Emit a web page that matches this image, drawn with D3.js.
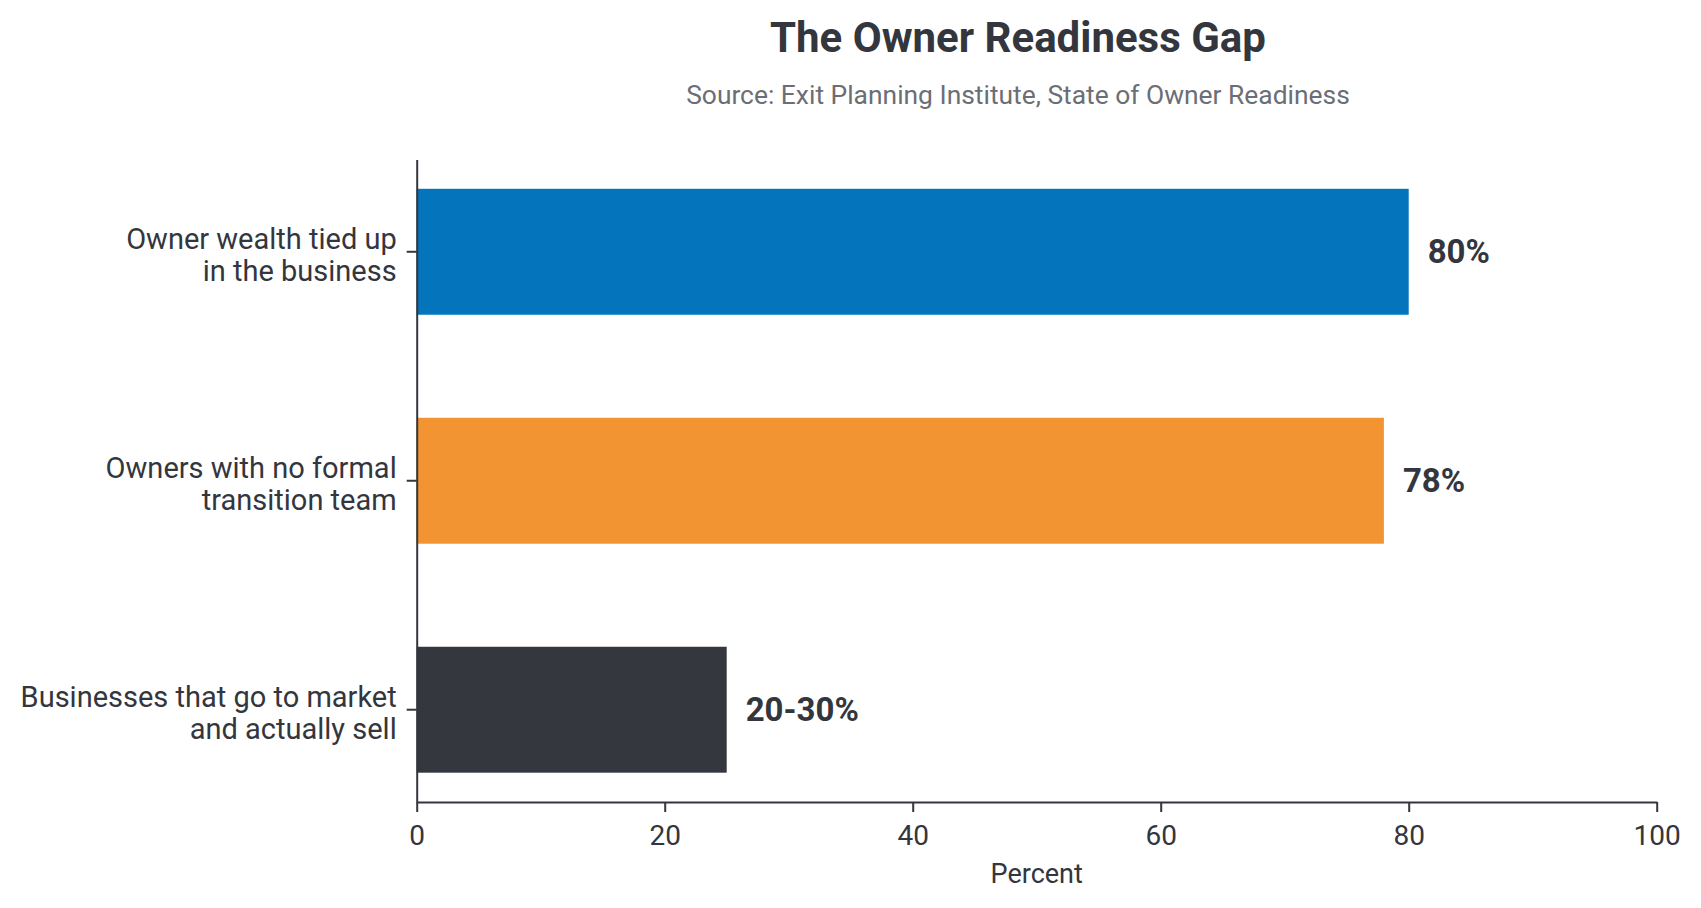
<!DOCTYPE html>
<html lang="en">
<head>
<meta charset="UTF-8">
<title>The Owner Readiness Gap</title>
<script src="https://d3js.org/d3.v7.min.js"></script>
<style>
    body { margin: 0; background: #fff; }
    svg { display: block; font-family: Roboto, "Noto Sans", sans-serif; }
    .axis path, .axis line { stroke: #33363d; stroke-width: 2; }
    .axis text { fill: #33363d; font-size: 28px; font-family: Roboto, sans-serif; }
</style>
</head>
<body>
<svg width="1701" height="908"></svg>
<script>
// chart data
const categories = [
    ['Owner wealth tied up', 'in the business'],
    ['Owners with no formal', 'transition team'],
    ['Businesses that go to market', 'and actually sell']
];
const values = [80, 78, 25];
const valueLabels = ['80%', '78%', '20-30%'];
const barColors = ['#0474bc', '#f39433', '#34373e'];
const xTicks = [0, 20, 40, 60, 80, 100];

const width = 1701, height = 908;
const plotLeft = 416.7, plotRight = 1656.7, plotTop = 159.5, plotBottom = 802;

const svg = d3.select('svg');

svg.append('rect')
    .attr('width', width)
    .attr('height', height)
    .attr('fill', '#fff');

const x = d3.scaleLinear()
    .domain([0, 100])
    .range([plotLeft, plotRight]);

const y = d3.scaleBand()
    .domain(d3.range(categories.length))
    .range([plotTop, plotBottom])
    .paddingInner(0.45)
    .paddingOuter(0.128);

// bars
svg.append('g')
    .selectAll('rect')
    .data(values)
    .enter().append('rect')
    .attr('x', x(0))
    .attr('y', (d, i) => y(i))
    .attr('width', d => x(d) - x(0))
    .attr('height', y.bandwidth())
    .attr('fill', (d, i) => barColors[i]);

// value labels
svg.append('g')
    .selectAll('text')
    .data(values)
    .enter().append('text')
    .attr('x', d => x(d) + 19)
    .attr('y', (d, i) => y(i) + y.bandwidth() / 2)
    .attr('dy', '0.35em')
    .style('font-size', '33px')
    .style('font-weight', 'bold')
    .style('fill', '#33363d')
    .text((d, i) => valueLabels[i]);

// y axis
const yAxis = svg.append('g')
    .attr('class', 'axis')
    .attr('transform', `translate(${plotLeft}, 0)`)
    .call(d3.axisLeft(y).tickSize(10).tickSizeOuter(0).tickPadding(10).tickFormat(''));

yAxis.selectAll('.tick text')
    .attr('dy', null)
    .style('font-size', '29px')
    .each(function(d) {
        const t = d3.select(this);
        categories[d].forEach((line, j) => {
            t.append('tspan')
                .attr('x', -20)
                .attr('y', -2.7 + j * 32)
                .text(line);
        });
    });

// x axis
svg.append('g')
    .attr('class', 'axis')
    .attr('transform', `translate(0, ${plotBottom})`)
    .call(d3.axisBottom(x).tickValues(xTicks).tickSize(10).tickSizeOuter(0).tickPadding(13));

svg.append('text')
    .attr('x', (plotLeft + plotRight) / 2)
    .attr('y', 883)
    .attr('text-anchor', 'middle')
    .style('font-size', '27px')
    .style('fill', '#33363d')
    .text('Percent');

// title and source
svg.append('text')
    .attr('x', 1018)
    .attr('y', 52)
    .attr('text-anchor', 'middle')
    .style('font-size', '42px')
    .style('font-weight', 'bold')
    .style('fill', '#33363d')
    .text('The Owner Readiness Gap');

svg.append('text')
    .attr('x', 1018)
    .attr('y', 104)
    .attr('text-anchor', 'middle')
    .style('font-size', '26.4px')
    .style('fill', '#6b6e75')
    .text('Source: Exit Planning Institute, State of Owner Readiness');
</script>
</body>
</html>
